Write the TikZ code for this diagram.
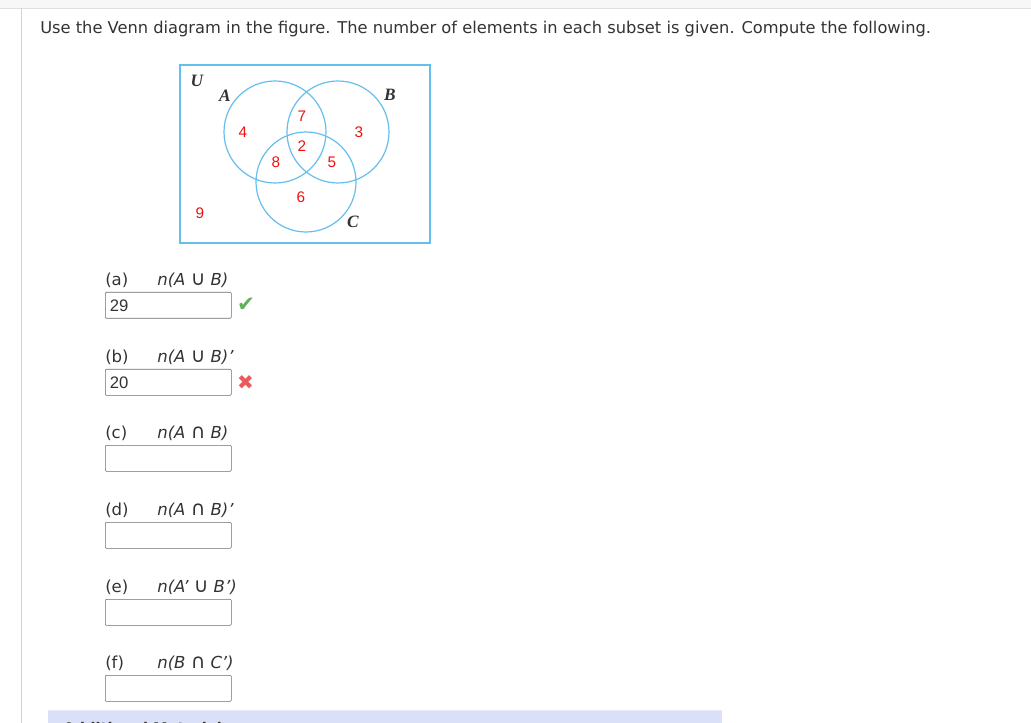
\documentclass[tikz,border=0pt]{standalone}
\usepackage{fontspec}
\setmainfont{DejaVu Sans}
\newfontfamily\numfont{Liberation Sans}
\newfontfamily\setfont{Liberation Serif}
\usetikzlibrary{positioning}
\definecolor{venn}{HTML}{64BFEC}
\definecolor{txt}{HTML}{333333}
\definecolor{numred}{HTML}{F01010}
\definecolor{okgreen}{HTML}{5DB35A}
\definecolor{badred}{HTML}{EB5A5A}
\definecolor{bar}{HTML}{D9E0F7}
\newcommand\un{{\upshape\fontsize{15}{14}\selectfont ∪}}
\newcommand\ins{{\upshape\fontsize{15}{14}\selectfont ∩}}
\tikzset{
	setlabel/.style={font=\setfont\fontsize{13}{13}\selectfont\bfseries\itshape, txt},
	count/.style={font=\numfont\fontsize{11.5}{12}\selectfont, numred},
	answerbox/.style={draw=gray!85!black, rounded corners=0.8pt, minimum width=94.5pt, minimum height=19.5pt, anchor=north west},
	answer/.style={anchor=west, font=\numfont\fontsize{12.5}{13}\selectfont}
}

\begin{document}
\begin{tikzpicture}[x=0.75pt, y=-0.75pt, every node/.style={inner sep=0pt, txt, font=\fontsize{12.4}{14}\selectfont}]
	\useasboundingbox (0,0) rectangle (1031,723);
	\fill[gray!6] (0,0) rectangle (1031,8);
	\draw[gray!25, line width=1.2pt] (0,8.5) -- (1031,8.5);
	\draw[gray!35, line width=1pt] (21.5,8.5) -- (21.5,723);

	\node[anchor=base west, font=\fontsize{12.2}{14}\selectfont] (title) at (40,33.5) {Use the Venn diagram in the figure. The number of elements in each subset is given. Compute the following.};

	\draw[venn, line width=1pt] (180,65) rectangle (430,243);
	\draw[venn, line width=0.9pt] (275,132) circle [radius=51];
	\draw[venn, line width=0.9pt] (338,132) circle [radius=51];
	\draw[venn, line width=0.9pt] (306,182) circle [radius=50];

	\node[setlabel] (setU) at (197,81) {U};
	\node[setlabel] (setA) at (225,96) {A};
	\node[setlabel] (setB) at (390,95) {B};
	\node[setlabel] (setC) at (353,222) {C};

	\node[count] (nA) at (243,132) {4};
	\node[count] (nAB) at (302,116) {7};
	\node[count] (nB) at (359,132) {3};
	\node[count] (nABC) at (302,146) {2};
	\node[count] (nAC) at (276,162) {8};
	\node[count] (nBC) at (332,162) {5};
	\node[count] (nC) at (301,197) {6};
	\node[count] (nU) at (200,213) {9};

	\foreach \i/\y/\expr in {a/280/{n(A \un\ B)}, b/357/{n(A \un\ B)'}, c/433/{n(A \ins\ B)}, d/510/{n(A \ins\ B)'}, e/587/{n(A' \un\ B')}, f/663/{n(B \ins\ C')}} {
		\node[anchor=west] (lab-\i) at (105,\y) {(\i)};
		\node[anchor=west, font=\fontsize{12.4}{14}\selectfont\itshape] (expr-\i) at (157,\y) {\expr};
		\node[answerbox] (box-\i) at (105,\y+12) {};
	}

	\node[answer] (ans-a) at ([xshift=3.5pt]box-a.west) {29};
	\node[answer] (ans-b) at ([xshift=3.5pt]box-b.west) {20};
	\node[right=4pt of box-a, okgreen, font=\fontsize{16}{16}\selectfont] (mark-a) {✔};
	\node[right=4pt of box-b, badred, font=\fontsize{15}{15}\selectfont] (mark-b) {✖};

	\fill[bar] (48,710) rectangle (722,723);
	\draw[bar!60, line width=1pt] (48,710.5) -- (722,710.5);
	\begin{scope}
		\clip (48,711) rectangle (722,723);
		\node[anchor=base west, font=\fontsize{11}{12}\selectfont\bfseries] (more) at (63,733) {Additional Materials};
	\end{scope}
\end{tikzpicture}
\end{document}
